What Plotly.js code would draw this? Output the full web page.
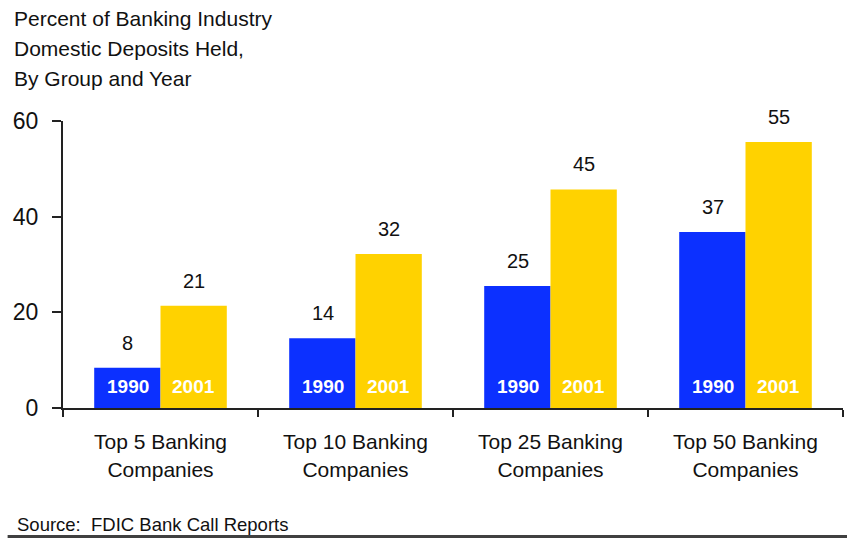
<!DOCTYPE html>
<html>
<head>
<meta charset="utf-8">
<script src="https://cdn.plot.ly/plotly-3.0.1.min.js"></script>
<style>html,body{margin:0;padding:0;background:#fff;}#chart{width:847px;height:539px;}</style>
</head>
<body>
<div id="chart"></div>
<script>
var categories = ["Top 5 Banking<br>Companies", "Top 10 Banking<br>Companies", "Top 25 Banking<br>Companies", "Top 50 Banking<br>Companies"];
var seriesNames = ["1990", "2001"];
var values1990 = [8.4, 14.6, 25.5, 36.8];
var values2001 = [21.4, 32.2, 45.7, 55.6];
var labels1990 = ["8", "14", "25", "37"];
var labels2001 = ["21", "32", "45", "55"];
var yTicks = [0, 20, 40, 60];
var titleLines = ["Percent of Banking Industry", "Domestic Deposits Held,", "By Group and Year"];
var sourceText = "Source:  FDIC Bank Call Reports";

var FONT = "Liberation Sans, Arial, sans-serif";
var colors = ["#0C30FF", "#FFD200"];
var LINE = "#222";

var traces = [
  {type: "bar", name: seriesNames[0], x: categories, y: values1990, marker: {color: colors[0]}, hoverinfo: "none"},
  {type: "bar", name: seriesNames[1], x: categories, y: values2001, marker: {color: colors[1]}, hoverinfo: "none"}
];

var annotations = [];
var shift = 33;
[[values1990, labels1990, -shift, seriesNames[0]], [values2001, labels2001, shift, seriesNames[1]]].forEach(function (s) {
  categories.forEach(function (c, i) {
    annotations.push({x: c, y: s[0][i], xref: "x", yref: "y", text: s[1][i], showarrow: false,
      xshift: s[2], yanchor: "middle", yshift: 25, font: {family: FONT, size: 20, color: "#111"}});
    annotations.push({x: c, y: 0, xref: "x", yref: "y", text: "<b>" + s[3] + "</b>", showarrow: false,
      xshift: s[2], yanchor: "middle", yshift: 22, font: {family: FONT, size: 19, color: "#fff"}});
  });
});
var titleY = [1.356, 1.252, 1.147];
titleLines.forEach(function (t, i) {
  annotations.push({xref: "paper", yref: "paper", x: -0.065, y: titleY[i], xanchor: "left", yanchor: "middle",
    text: t, showarrow: false, font: {family: FONT, size: 21, color: "#111"}});
});
annotations.push({xref: "paper", yref: "paper", x: -0.0615, y: -0.407, xanchor: "left", yanchor: "middle",
  text: sourceText, showarrow: false, font: {family: FONT, size: 18.5, color: "#111"}});

var layout = {
  width: 847, height: 539,
  margin: {l: 63, r: 4, t: 121, b: 131},
  paper_bgcolor: "#fff", plot_bgcolor: "#fff",
  barmode: "group", bargap: 0.32, bargroupgap: 0,
  showlegend: false,
  xaxis: {type: "category", showline: true, linecolor: LINE, linewidth: 2, ticks: "outside", tickson: "boundaries",
    ticklen: 7, tickcolor: LINE, tickwidth: 2, showgrid: false, zeroline: false, ticklabelstandoff: 14,
    tickfont: {family: FONT, size: 21, color: "#111"}},
  yaxis: {range: [0, 60], tickvals: yTicks, showline: true, linecolor: LINE, linewidth: 2, ticks: "outside",
    ticklen: 9, tickcolor: LINE, tickwidth: 2, showgrid: false, zeroline: false, ticklabelstandoff: 9,
    tickfont: {family: FONT, size: 23, color: "#111"}},
  annotations: annotations,
  shapes: [{type: "line", xref: "paper", yref: "paper", x0: -0.071, x1: 1.01, y0: -0.448, y1: -0.448,
    line: {color: "#404040", width: 3}}]
};

Plotly.newPlot("chart", traces, layout, {displayModeBar: false, staticPlot: true});
</script>
</body>
</html>
